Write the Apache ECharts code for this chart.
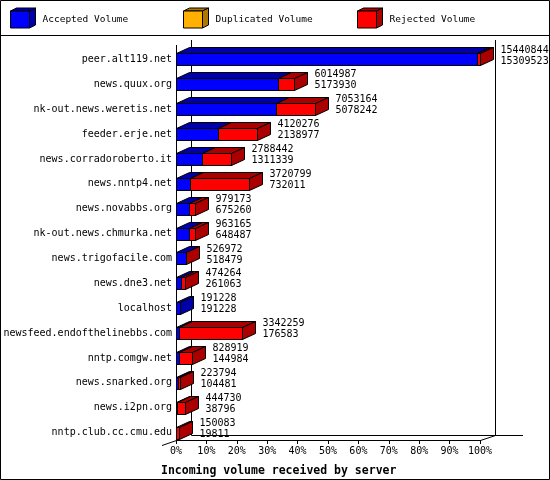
<!DOCTYPE html>
<html>
<head>
<meta charset="utf-8">
<script src="https://cdn.jsdelivr.net/npm/echarts@6/dist/echarts.min.js"></script>
<style>
  html, body { margin: 0; padding: 0; background: #fff; }
  #chart { width: 550px; height: 480px; }
</style>
</head>
<body>
<div id="chart"></div>
<script>
var servers = ['peer.alt119.net', 'news.quux.org', 'nk-out.news.weretis.net', 'feeder.erje.net',
    'news.corradoroberto.it', 'news.nntp4.net', 'news.novabbs.org', 'nk-out.news.chmurka.net',
    'news.trigofacile.com', 'news.dne3.net', 'localhost', 'newsfeed.endofthelinebbs.com',
    'nntp.comgw.net', 'news.snarked.org', 'news.i2pn.org', 'nntp.club.cc.cmu.edu'];
var offered = [15440844, 6014987, 7053164, 4120276, 2788442, 3720799, 979173, 963165,
    526972, 474264, 191228, 3342259, 828919, 223794, 444730, 150083];
var accepted = [15309523, 5173930, 5078242, 2138977, 1311339, 732011, 675260, 648487,
    518479, 261063, 191228, 176583, 144984, 104481, 38796, 19811];
var xTicks = [0, 10, 20, 30, 40, 50, 60, 70, 80, 90, 100];

var FONT = '"DejaVu Sans Mono", monospace';
var maxOffered = Math.max.apply(null, offered);

// [index, accepted %, rejected %]
var rows = servers.map(function(s, i) {
    return [i, accepted[i] / maxOffered * 100, (offered[i] - accepted[i]) / maxOffered * 100];
});

// profondeur des barres
var DX = 13, DY = -6, HALF = 6;

function face(points, fill) {
    return { type: 'polygon', shape: { points: points },
        style: { fill: fill, stroke: '#000', lineWidth: 1 } };
}

function renderBar(params, api) {
    var i = api.value(0), a = api.value(1), r = api.value(2);
    var p0 = api.coord([0, i]), pa = api.coord([a, i]), pr = api.coord([a + r, i]);
    var yt = Math.round(p0[1] - HALF) + 0.5, yb = yt + 2 * HALF;
    var x0 = Math.round(p0[0]) + 0.5, xa = Math.round(pa[0]) + 0.5, xr = Math.round(pr[0]) + 0.5;
    var kids = [];
    var segs = [[x0, xa, '#0000ff', '#0000aa'], [xa, xr, '#ff0000', '#aa0000']];
    segs.forEach(function(s) {
        if (s[1] - s[0] < 0.5) return;
        kids.push(face([[s[0], yt], [s[0] + DX, yt + DY], [s[1] + DX, yt + DY], [s[1], yt]], s[3]));
        kids.push({ type: 'rect', shape: { x: s[0], y: yt, width: s[1] - s[0], height: 2 * HALF },
            style: { fill: s[2], stroke: '#000', lineWidth: 1 } });
    });
    var sideCol = r > 0.001 ? '#aa0000' : '#0000aa';
    kids.push(face([[xr, yt], [xr + DX, yt + DY], [xr + DX, yb + DY], [xr, yb]], sideCol));
    kids.push({ type: 'text', style: {
        text: offered[i] + '\n' + accepted[i], x: xr + DX + 7, y: p0[1] - 4,
        verticalAlign: 'middle', font: '10px ' + FONT, fill: '#000', lineHeight: 11 } });
    return { type: 'group', children: kids };
}

function line(x1, y1, x2, y2) {
    return { type: 'line', shape: { x1: x1, y1: y1, x2: x2, y2: y2 },
        style: { stroke: '#000', lineWidth: 1 }, z: 0 };
}

function legendItem(x, label, front, dark) {
    var y = 11, w = 19, h = 17;
    return [
        { type: 'polygon', shape: { points: [[x, y], [x + 6, y - 3], [x + w + 6, y - 3], [x + w, y]] },
          style: { fill: dark, stroke: '#000', lineWidth: 1 } },
        { type: 'polygon', shape: { points: [[x + w, y], [x + w + 6, y - 3], [x + w + 6, y + h - 3], [x + w, y + h]] },
          style: { fill: dark, stroke: '#000', lineWidth: 1 } },
        { type: 'rect', shape: { x: x, y: y, width: w, height: h },
          style: { fill: front, stroke: '#000', lineWidth: 1 } },
        { type: 'text', style: { text: label, x: x + 32, y: 20, verticalAlign: 'middle',
          font: '9.5px ' + FONT, fill: '#000' } }
    ];
}

var frame = [
    { type: 'rect', shape: { x: 0.5, y: 0.5, width: 549, height: 479 },
      style: { fill: 'none', stroke: '#000', lineWidth: 1 } },
    line(0, 35.5, 550, 35.5),
    // mur du fond
    line(191.5, 40, 191.5, 435.5),
    line(495.5, 40, 495.5, 435.5),
    line(191.5, 435.5, 523, 435.5),
    // devant
    line(176.5, 45, 176.5, 440.5),
    line(162, 445.5, 176.5, 440.5),
    line(176.5, 440.5, 480.5, 440.5),
    line(480.5, 440.5, 495.5, 435.5)
].concat(legendItem(10.5, 'Accepted Volume', '#0000ff', '#0000aa'))
 .concat(legendItem(183.5, 'Duplicated Volume', '#ffb000', '#b07800'))
 .concat(legendItem(357.5, 'Rejected Volume', '#ff0000', '#aa0000'));

var chart = echarts.init(document.getElementById('chart'));
chart.setOption({
    animation: false,
    backgroundColor: '#fff',
    title: {
        text: 'Incoming volume received by server',
        left: 156, top: 460,
        textStyle: { fontFamily: FONT, fontWeight: 'bold', fontSize: 11.5, color: '#000' }
    },
    grid: { left: 176, right: 70, top: 47, bottom: 35 },
    xAxis: {
        type: 'value', min: 0, max: 100, interval: 10, offset: -5,
        axisLine: { show: false },
        axisTick: { show: true, length: 4, lineStyle: { color: '#000' } },
        splitLine: { show: false },
        axisLabel: { margin: 6, color: '#000', fontFamily: FONT, fontSize: 10,
            formatter: function(v) { return xTicks.indexOf(v) >= 0 ? v + '%' : ''; } }
    },
    yAxis: {
        type: 'category', data: servers, inverse: true,
        axisLine: { show: false }, axisTick: { show: false },
        axisLabel: { margin: 4, color: '#000', fontFamily: FONT, fontSize: 10 }
    },
    graphic: frame,
    series: [{
        type: 'custom',
        renderItem: renderBar,
        encode: { x: [1, 2], y: 0 },
        data: rows,
        clip: false,
        z: 5
    }]
});
</script>
</body>
</html>
